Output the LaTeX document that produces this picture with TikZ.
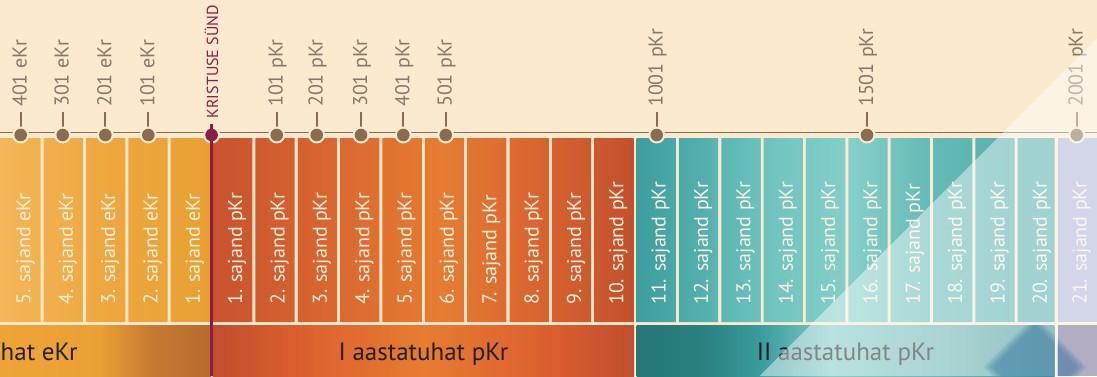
\documentclass[tikz,border=0pt]{standalone}
\usepackage{fontspec}
\setmainfont{PT Sans}
\definecolor{bg}{HTML}{FBEACE}
\definecolor{lineBrown}{HTML}{8B6E52}
\definecolor{dotBrown}{HTML}{8A6D50}
\definecolor{dateTxt}{HTML}{877868}
\definecolor{colTxt}{HTML}{FCF0DE}
\definecolor{bandTxt}{HTML}{231F1F}
\definecolor{magenta}{HTML}{8C1D44}
% eKr columns
\definecolor{eA}{HTML}{F4B657}
\definecolor{eB}{HTML}{EEA840}
\definecolor{eC}{HTML}{E8A030}
% pKr columns
\definecolor{pA}{HTML}{C8532E}
\definecolor{pB}{HTML}{D6612F}
\definecolor{pC}{HTML}{E67C31}
\definecolor{pD}{HTML}{DC6830}
\definecolor{pE}{HTML}{C3502D}
% teal columns
\definecolor{tA}{HTML}{3D9E9F}
\definecolor{tB}{HTML}{52AFAD}
\definecolor{tC}{HTML}{6DC2BD}
\definecolor{tD}{HTML}{84D0CA}
\definecolor{tE}{HTML}{64BAB6}
\definecolor{tF}{HTML}{50ADAD}
% bands
\definecolor{ebA}{HTML}{EFA535}
\definecolor{ebB}{HTML}{EA9F35}
\definecolor{ebC}{HTML}{C77A32}
\definecolor{ebD}{HTML}{B96A30}
\definecolor{pbA}{HTML}{C04E2D}
\definecolor{pbB}{HTML}{DC5F2F}
\definecolor{pbC}{HTML}{E67D31}
\definecolor{tbA}{HTML}{277777}
\definecolor{tbB}{HTML}{2A7F7F}
\definecolor{tbC}{HTML}{3A9C9B}
\definecolor{tbD}{HTML}{7FCCC7}
\definecolor{tbE}{HTML}{62B0AE}
\definecolor{tbF}{HTML}{3A9090}
\definecolor{lavCol}{HTML}{B0B3D8}
\definecolor{lavBand}{HTML}{766A8F}
\definecolor{diam}{HTML}{2F72A0}
\begin{document}
\begin{tikzpicture}[x=1pt,y=-1pt,
  collabel/.style={rotate=90, anchor=base west, inner sep=0pt, text=colTxt, font=\fontsize{20}{24}\selectfont},
  datelabel/.style={rotate=90, anchor=base west, inner sep=0pt, text=dateTxt, font=\fontsize{20}{24}\selectfont},
  kristus/.style={rotate=90, anchor=base west, inner sep=0pt, text=magenta, font=\fontsize{16}{19}\selectfont},
  bandlabel/.style={anchor=base, inner sep=0pt, text=bandTxt, font=\fontsize{25}{30}\selectfont},
  stemline/.style={draw=lineBrown, line width=2pt},
  ringmark/.style={fill=bg},
  dotmark/.style={fill=dotBrown},
]
\useasboundingbox (0,0) rectangle (1097,376);
\clip (0,0) rectangle (1097,376);
\fill[bg] (0,0) rectangle (1097,376);

% timeline
\coordinate (tlL) at (0,132.5);
\coordinate (tlR) at (1097,132.5);
\draw[lineBrown, line width=1.3pt] (tlL) -- (tlR);

% stems
\foreach \x in {20.7,62.7,105.3,148.3,276.7,316.7,361,403.3,445.7,656.7,867,1076.7}{
  \draw[stemline] (\x,135) -- (\x,112);
}

% eKr columns
\begin{scope}
\clip (0,138) rectangle (3,322) \foreach \j in {0,...,4}{({1.3+42.35*\j},138) rectangle ++(39.3,184)};
\shade[left color=eA,right color=eB] (0,138) rectangle (101,322);
\shade[left color=eB,right color=eC] (100,138) rectangle (212,322);
\end{scope}
% pKr columns
\begin{scope}
\clip \foreach \j in {5,...,14}{({1.3+42.35*\j},138) rectangle ++(39.3,184)};
\shade[left color=pA,right color=pB] (212,138) rectangle (301,322);
\shade[left color=pB,right color=pC] (300,138) rectangle (441,322);
\shade[left color=pC,right color=pD] (440,138) rectangle (521,322);
\shade[left color=pD,right color=pE] (520,138) rectangle (635,322);
\end{scope}
% teal columns
\begin{scope}
\clip \foreach \j in {15,...,23}{({1.3+42.35*\j},138) rectangle ++(39.3,184)} (1017.7,138) rectangle (1054.5,322);
\shade[left color=tA,right color=tB] (636,138) rectangle (701,322);
\shade[left color=tB,right color=tC] (700,138) rectangle (761,322);
\shade[left color=tC,right color=tD] (760,138) rectangle (851,322);
\shade[left color=tD,right color=tE] (850,138) rectangle (931,322);
\shade[left color=tE,right color=tF] (930,138) rectangle (1055,322);
\end{scope}
\fill[lavCol] (1057.5,138) rectangle (1097,322);

% bands
\begin{scope}
\clip (0,325) rectangle (211,376);
\shade[left color=ebA,right color=ebB] (0,325) rectangle (101,376);
\shade[left color=ebB,right color=ebC] (100,325) rectangle (151,376);
\shade[left color=ebC,right color=ebD] (150,325) rectangle (211,376);
\end{scope}
\begin{scope}
\clip (212.5,325) rectangle (634,376);
\shade[left color=pbA,right color=pbB] (212,325) rectangle (301,376);
\shade[left color=pbB,right color=pbC] (300,325) rectangle (424,376);
\shade[left color=pbC,right color=pbB] (423,325) rectangle (546,376);
\shade[left color=pbB,right color=pbA] (545,325) rectangle (635,376);
\end{scope}
\begin{scope}
\clip (636.5,325) rectangle (1054.5,376);
\shade[left color=tbA,right color=tbB] (636,325) rectangle (701,376);
\shade[left color=tbB,right color=tbC] (700,325) rectangle (761,376);
\shade[left color=tbC,right color=tbD] (760,325) rectangle (831,376);
\shade[left color=tbD,right color=tbE] (830,325) rectangle (951,376);
\shade[left color=tbE,right color=tbF] (950,325) rectangle (1055,376);
\end{scope}
\fill[lavBand] (1057.5,325) rectangle (1097,376);

% rings and dots
\foreach \x in {20.7,62.7,105.3,148.3,276.7,316.7,361,403.3,445.7,656.7,867,1076.7}{
  \fill[ringmark] (\x,135) circle[radius=8.5];
  \fill[dotmark] (\x,135) circle[radius=6.3];
}
% Kristuse synd
\fill[ringmark] (211.6,135) circle[radius=8.5];
\coordinate (ksTop) at (211.6,124);
\coordinate (ksBot) at (211.6,376);
\draw[magenta, line width=3pt] (ksTop) -- (ksBot);
\fill[magenta] (211.6,135) circle[radius=6.3];
\node[kristus] (ks) at (218,118.5) {KRISTUSE SÜND};

% date labels
\node[datelabel] (d1) at (26.7,107) {401 eKr};
\node[datelabel] (d2) at (68.7,107) {301 eKr};
\node[datelabel] (d3) at (111.3,107) {201 eKr};
\node[datelabel] (d4) at (154.3,107) {101 eKr};
\node[datelabel] (d5) at (282.7,107) {101 pKr};
\node[datelabel] (d6) at (322.7,107) {201 pKr};
\node[datelabel] (d7) at (367,107) {301 pKr};
\node[datelabel] (d8) at (409.3,107) {401 pKr};
\node[datelabel] (d9) at (451.7,107) {501 pKr};
\node[datelabel] (d10) at (662.7,107) {1001 pKr};
\node[datelabel] (d11) at (873,107) {1501 pKr};
\node[datelabel] (d12) at (1082.7,107) {2001 pKr};

% column labels
\foreach \j/\t in {0/5. sajand eKr,1/4. sajand eKr,2/3. sajand eKr,3/2. sajand eKr,4/1. sajand eKr,
  5/1. sajand pKr,6/2. sajand pKr,7/3. sajand pKr,8/4. sajand pKr,9/5. sajand pKr,10/6. sajand pKr,
  11/7. sajand pKr,12/8. sajand pKr,13/9. sajand pKr,14/10. sajand pKr,15/11. sajand pKr,16/12. sajand pKr,
  17/13. sajand pKr,18/14. sajand pKr,19/15. sajand pKr,20/16. sajand pKr,21/17. sajand pKr,22/18. sajand pKr,
  23/19. sajand pKr,24/20. sajand pKr}{
  \node[collabel] (c\j) at ({1.3+42.35*\j+19.65+9.5},305) {\t};
}
\node[collabel] (c25) at (1086.5,305) {21. sajand pKr};

% band labels
\node[bandlabel, anchor=base west] (b0) at (0.5,360) {hat eKr};
\node[bandlabel] (b1) at (423.5,360) {I aastatuhat pKr};
\node[bandlabel] (b2) at (845.5,360) {II aastatuhat pKr};

% white overlay
\fill[white, opacity=0.45] (759.5,376) -- (1097,38.5) -- (1097,376) -- cycle;

% soft diamond
\begin{scope}
\clip (636.5,325) rectangle (1054.5,376) (1057.5,325) rectangle (1097,376);
\foreach \r in {52,50,48,46,44,42}{
  \fill[diam, opacity=0.11] (1035,{367-\r}) -- ({1035+\r},367) -- (1035,{367+\r}) -- ({1035-\r},367) -- cycle;
}
\end{scope}
\end{tikzpicture}
\end{document}
